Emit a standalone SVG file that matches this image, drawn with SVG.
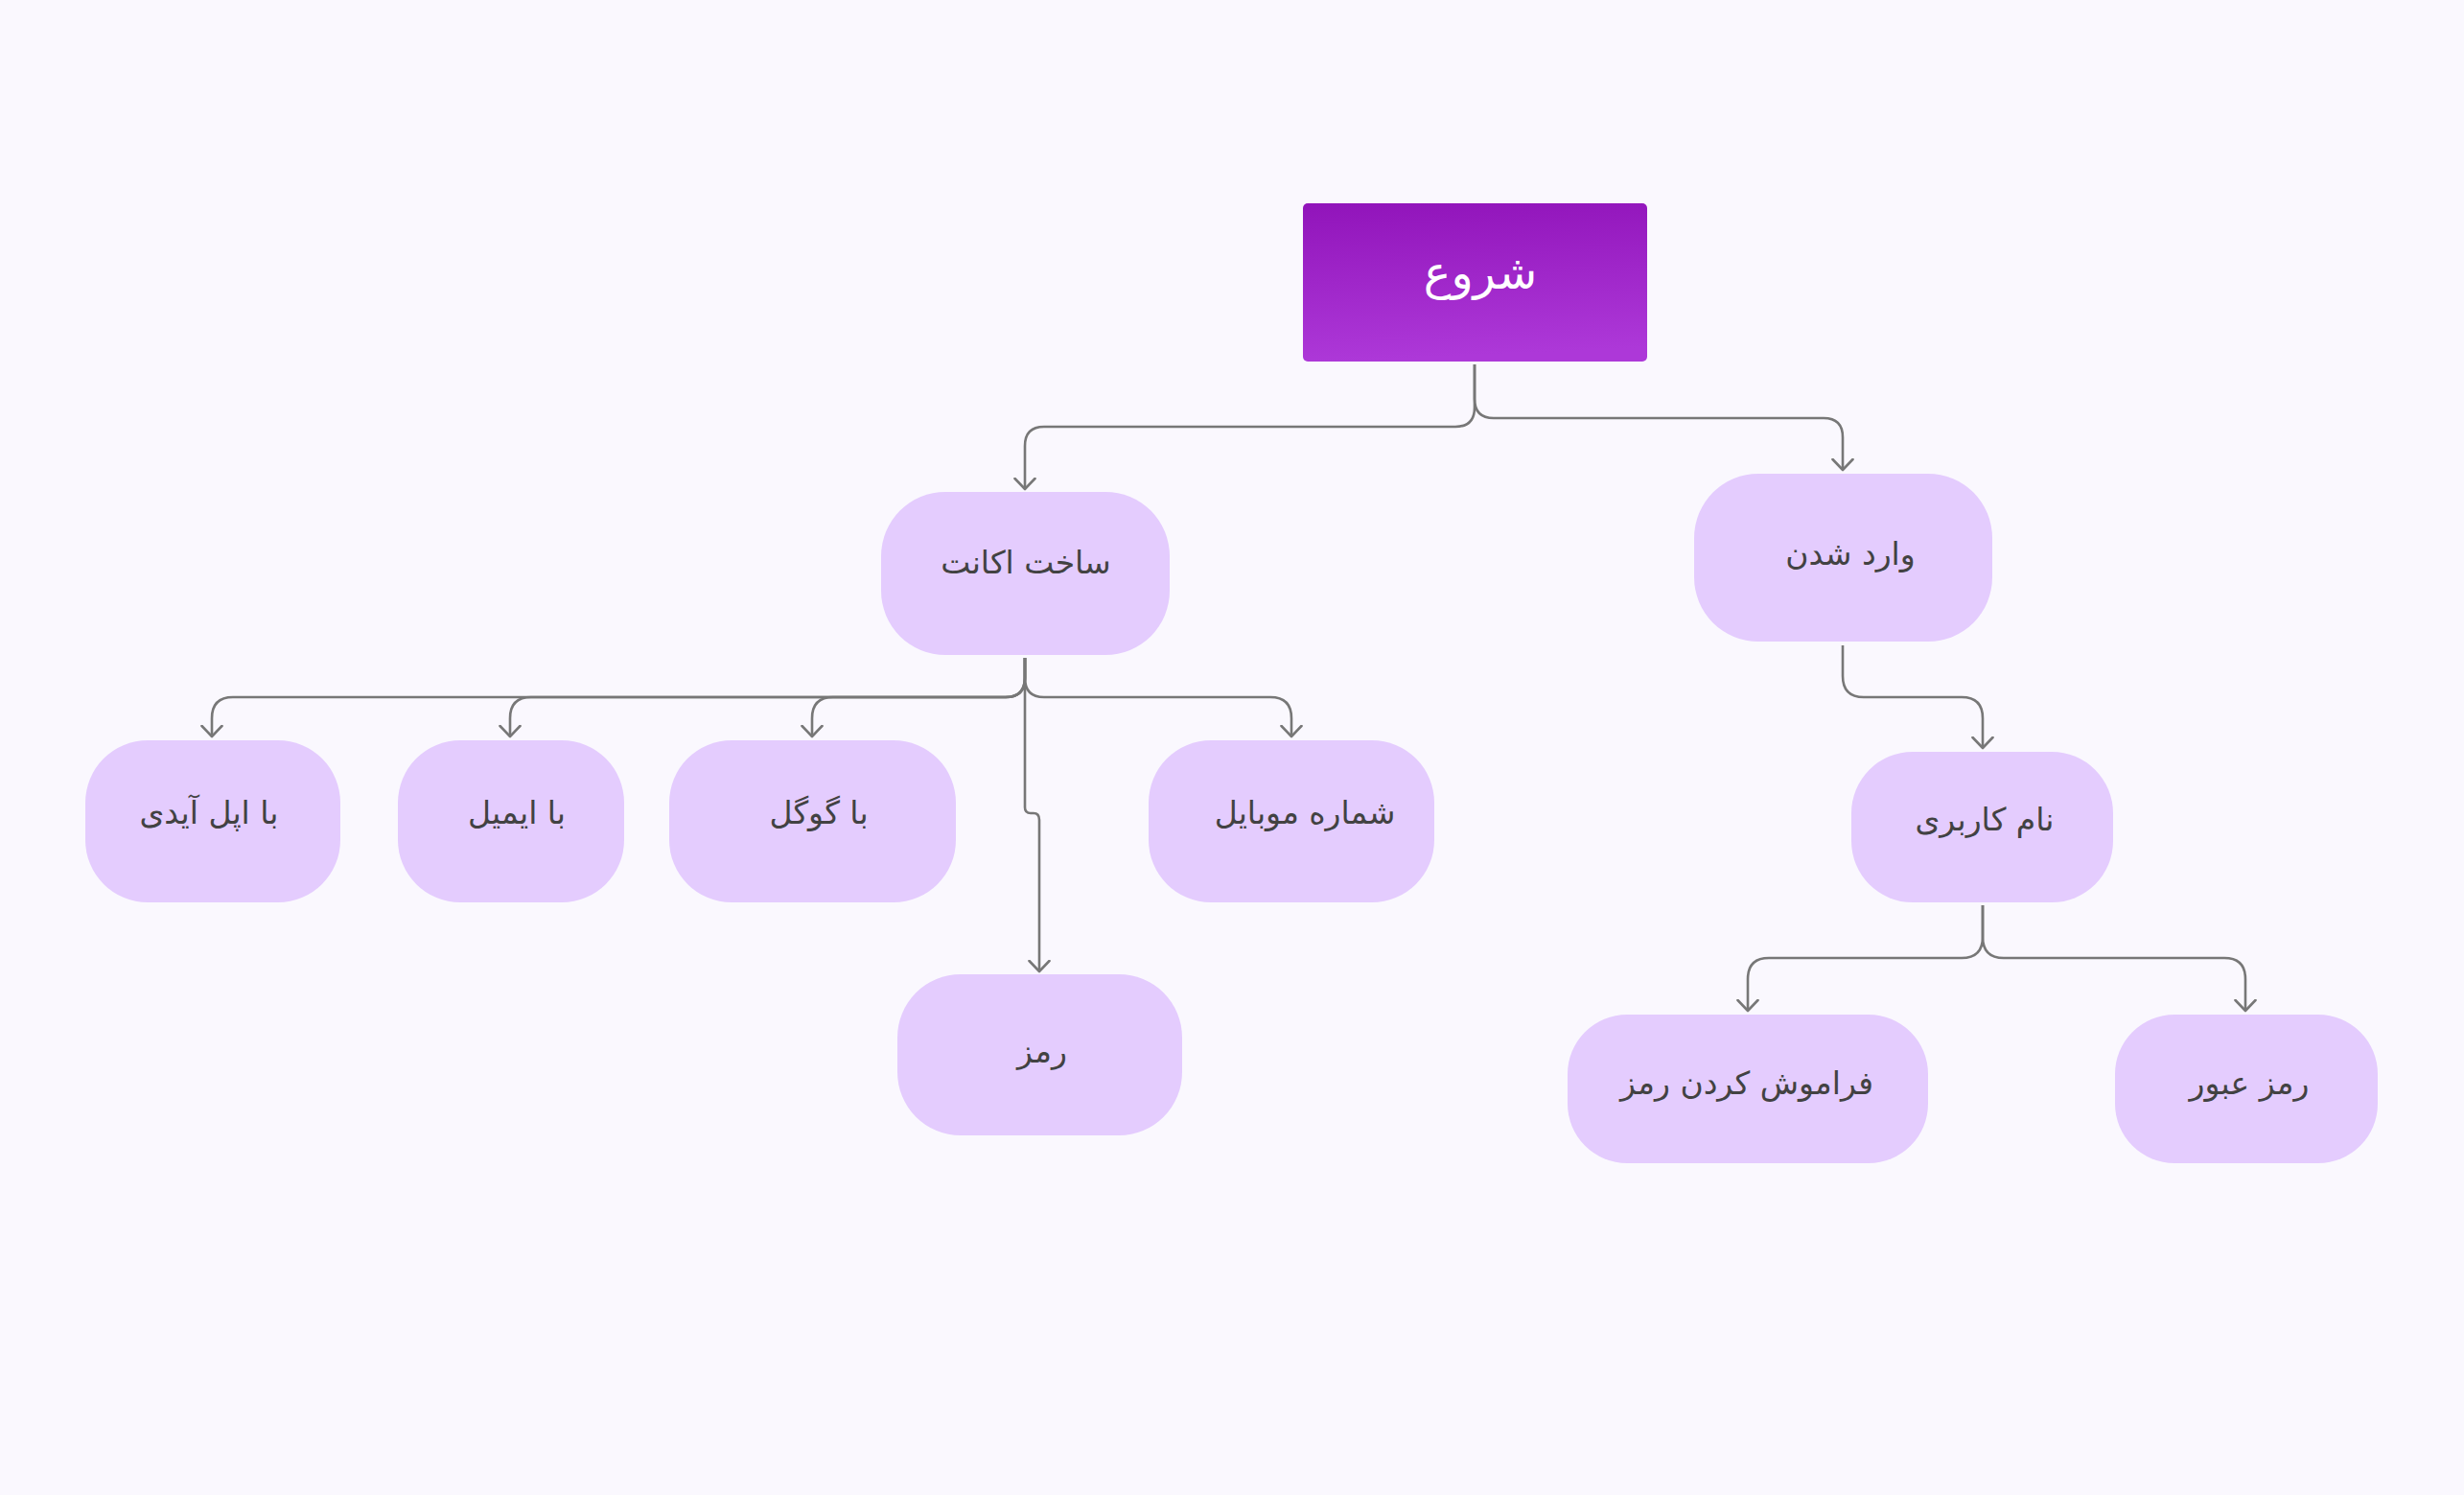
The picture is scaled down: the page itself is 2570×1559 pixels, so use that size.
<svg xmlns="http://www.w3.org/2000/svg" width="2570" height="1559" viewBox="0 0 2570 1559">
  <defs>
    <linearGradient id="startGrad" x1="0" y1="0" x2="0.1" y2="1">
      <stop offset="0" stop-color="#9114BA"/>
      <stop offset="1" stop-color="#AD38D8"/>
    </linearGradient>
    <marker id="arrow" viewBox="0 0 24 24" refX="12" refY="12" markerWidth="24" markerHeight="24" markerUnits="userSpaceOnUse" orient="auto">
      <path d="M1,1.5 L12,12 L1,22.5" fill="none" stroke="#777777" stroke-width="2.6" stroke-linecap="round" stroke-linejoin="round"/>
    </marker>
    <style>
      .node rect { fill: #E4CCFE; }
      .node text { font-family: "DejaVu Sans", "Noto Sans", sans-serif; font-size: 33px; fill: #424242; text-anchor: middle; }
      #start rect { fill: url(#startGrad); }
      #start text { fill: #FFFFFF; font-size: 48px; }
      .conn path { fill: none; stroke: #777777; stroke-width: 2.6; marker-end: url(#arrow); }
    </style>
  </defs>
  <rect x="0" y="0" width="2570" height="1559" fill="#FAF8FE"/>

  <g id="connectors" class="conn">
    <path d="M1538,380 L1538,425 Q1538,445 1518,445 L1089,445 Q1069,445 1069,465 L1069,510"/>
    <path d="M1538,380 L1538,416 Q1538,436 1558,436 L1902,436 Q1922,436 1922,456 L1922,490"/>
    <path d="M1069,686 L1069,707 Q1069,727 1049,727 L243,727 Q221,727 221,749 L221,768"/>
    <path d="M1069,686 L1069,707 Q1069,727 1049,727 L554,727 Q532,727 532,749 L532,768"/>
    <path d="M1069,686 L1069,707 Q1069,727 1049,727 L869,727 Q847,727 847,749 L847,768"/>
    <path d="M1069,686 L1069,707 Q1069,727 1089,727 L1325,727 Q1347,727 1347,749 L1347,768"/>
    <path d="M1069,686 L1069,842 Q1069,848 1075,848 L1078,848 Q1084,848 1084,855 L1084,1013"/>
    <path d="M1922,673 L1922,705 Q1922,727 1944,727 L2046,727 Q2068,727 2068,749 L2068,780"/>
    <path d="M2068,944 L2068,977 Q2068,999 2046,999 L1845,999 Q1823,999 1823,1021 L1823,1054"/>
    <path d="M2068,944 L2068,977 Q2068,999 2090,999 L2320,999 Q2342,999 2342,1021 L2342,1054"/>
  </g>

  <g id="start" class="node">
    <rect x="1359" y="212" width="359" height="165" rx="5"/>
    <text x="1544" y="301">شروع</text>
  </g>
  <g id="create-account" class="node">
    <rect x="919" y="513" width="301" height="170" rx="67"/>
    <text x="1070" y="598">ساخت اکانت</text>
  </g>
  <g id="login" class="node">
    <rect x="1767" y="494" width="311" height="175" rx="67"/>
    <text x="1930" y="589">وارد شدن</text>
  </g>
  <g id="apple-id" class="node">
    <rect x="89" y="772" width="266" height="169" rx="65"/>
    <text x="218" y="859">با اپل آیدی</text>
  </g>
  <g id="email" class="node">
    <rect x="415" y="772" width="236" height="169" rx="65"/>
    <text x="539" y="859">با ایمیل</text>
  </g>
  <g id="google" class="node">
    <rect x="698" y="772" width="299" height="169" rx="65"/>
    <text x="854" y="859">با گوگل</text>
  </g>
  <g id="mobile" class="node">
    <rect x="1198" y="772" width="298" height="169" rx="65"/>
    <text x="1361" y="859">شماره موبایل</text>
  </g>
  <g id="password" class="node">
    <rect x="936" y="1016" width="297" height="168" rx="66"/>
    <text x="1087" y="1108">رمز</text>
  </g>
  <g id="username" class="node">
    <rect x="1931" y="784" width="273" height="157" rx="64"/>
    <text x="2070" y="866">نام کاربری</text>
  </g>
  <g id="forgot-password" class="node">
    <rect x="1635" y="1058" width="376" height="155" rx="62"/>
    <text x="1822" y="1141">فراموش کردن رمز</text>
  </g>
  <g id="pass" class="node">
    <rect x="2206" y="1058" width="274" height="155" rx="62"/>
    <text x="2346" y="1141">رمز عبور</text>
  </g>
</svg>
